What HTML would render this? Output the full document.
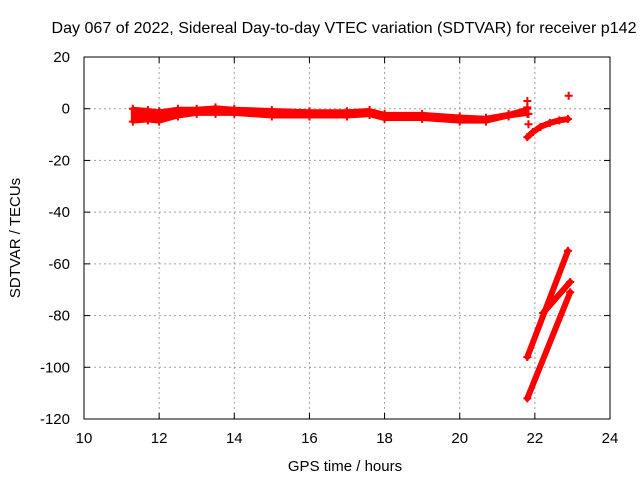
<!DOCTYPE html>
<html><head><meta charset="utf-8"><style>
body{margin:0;background:#fff}
svg{display:block;font-family:"Liberation Sans",sans-serif}
</style></head><body>
<svg id="c" width="640" height="480">
<text x="344" y="33" font-size="16" textLength="585" lengthAdjust="spacingAndGlyphs" text-anchor="middle">Day 067 of 2022, Sidereal Day-to-day VTEC variation (SDTVAR) for receiver p142</text>
<text x="345" y="471" font-size="15" text-anchor="middle">GPS time / hours</text>
<text transform="translate(20,238) rotate(-90)" font-size="15" text-anchor="middle">SDTVAR / TECUs</text>
<g id="grid"></g><g id="ticks"></g><g id="marks"></g>
<rect x="84" y="57" width="526" height="362" fill="none" stroke="#000" stroke-width="1"/>
</svg>
<script>
const xTicks=[10,12,14,16,18,20,22,24];
const yTicks=[20,0,-20,-40,-60,-80,-100,-120];
const bandTime=[11.3,11.7,12,12.5,13,13.5,14,15,16,17,17.6,18,19,20,20.7,21.3,21.8];
const bandUpper=[0,-0.5,-1,0,0,0.5,0,-0.5,-1,-1,-0.5,-2,-2,-3,-3.5,-2,0];
const bandLower=[-5,-4.5,-5,-3,-2,-2,-2,-3,-3,-3,-2.5,-4,-4,-5,-5,-3,-2];
const spikeTime=[21.8,21.8,21.83,21.83];
const spikeVal=[3,0.5,-2,-6];
const curveTime=[21.8,21.95,22.15,22.4,22.65,22.88];
const curveVal=[-11,-9,-7,-5.5,-4.5,-4];
const lineATime=[21.8,22.88];const lineAVal=[-96,-55];
const lineBTime=[21.8,22.94];const lineBVal=[-112,-71];
const lineCTime=[22.22,22.94];const lineCVal=[-79,-67];
const isoTime=[22.9];const isoVal=[5];
const X=t=>84+(t-10)*(526/14), Y=v=>57+(20-v)*(362/140);
const NS="http://www.w3.org/2000/svg";
function mk(tag,a,parent){const e=document.createElementNS(NS,tag);for(const k in a)e.setAttribute(k,a[k]);document.getElementById(parent).appendChild(e);return e;}
xTicks.forEach(t=>{
 if(t>10&&t<24){const g=mk('line',{x1:X(t),x2:X(t),y1:57,y2:419,stroke:'#a0a0a0','stroke-dasharray':'2,3'},'grid');
 
 }
 const l=mk('text',{x:X(t),y:443,'font-size':15,'text-anchor':'middle'},'ticks');l.textContent=t;
 
 
 mk('line',{x1:X(t),x2:X(t),y1:419,y2:413,stroke:'#000'},'ticks');mk('line',{x1:X(t),x2:X(t),y1:57,y2:63,stroke:'#000'},'ticks');
});
yTicks.forEach(v=>{
 if(v<20&&v>-120){const g=mk('line',{x1:84,x2:610,y1:Y(v),y2:Y(v),stroke:'#a0a0a0','stroke-dasharray':'2,3'},'grid');
 
 }
 const l=mk('text',{x:70,y:Y(v)+5,'font-size':15,'text-anchor':'end'},'ticks');l.textContent=v;
 
 
 mk('line',{x1:84,x2:90,y1:Y(v),y2:Y(v),stroke:'#000'},'ticks');mk('line',{x1:610,x2:604,y1:Y(v),y2:Y(v),stroke:'#000'},'ticks');
});
const pts=bandTime.map((t,i)=>X(t)+','+Y(bandUpper[i])).concat(bandTime.map((t,i)=>X(t)+','+Y(bandLower[i])).reverse()).join(' ');
const band=mk('polygon',{points:pts,fill:'#f00',stroke:'#f00','stroke-width':4,'stroke-linejoin':'round'},'marks');


function plus(t,v){const p=mk('path',{d:`M${X(t)-4},${Y(v)}h8M${X(t)},${Y(v)-4}v8`,stroke:'#f00','stroke-width':2},'marks');
 
 }
bandTime.forEach((t,i)=>{plus(t,bandUpper[i]);plus(t,bandLower[i]);});
function seg(ts,vs,name){const l=mk('polyline',{points:ts.map((t,i)=>X(t)+','+Y(vs[i])).join(' '),fill:'none',stroke:'#f00','stroke-width':6,'stroke-linecap':'round'},'marks');
 
 
 ts.forEach((t,i)=>plus(t,vs[i]));}
seg(curveTime,curveVal,'recovery-curve');
seg(lineATime,lineAVal,'steep-series-a');
seg(lineBTime,lineBVal,'steep-series-b');
seg(lineCTime,lineCVal,'steep-series-c');
spikeTime.forEach((t,i)=>plus(t,spikeVal[i]));
isoTime.forEach((t,i)=>plus(t,isoVal[i]));
</script>
</body></html>
